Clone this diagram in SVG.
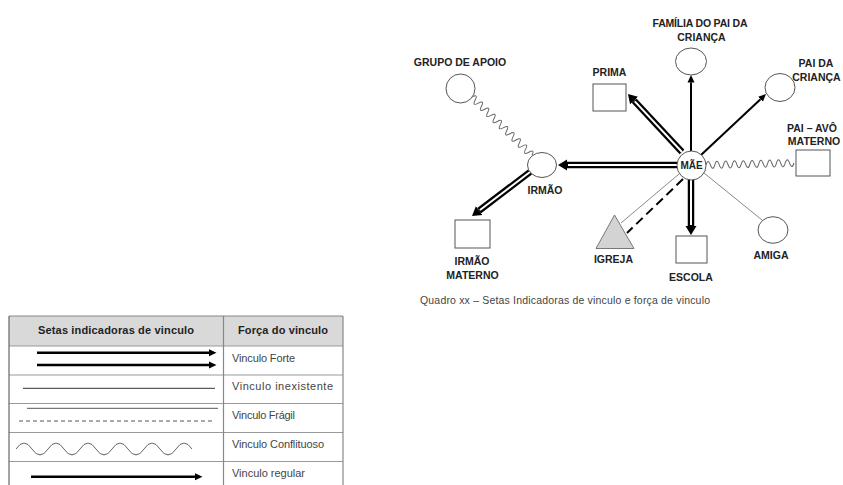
<svg xmlns="http://www.w3.org/2000/svg" width="843" height="485" viewBox="0 0 843 485">
<defs>
<style>
.lbl{font-family:"Liberation Sans",Arial,sans-serif;font-weight:bold;font-size:10.5px;fill:#222;text-anchor:middle}
.cap{font-family:"Liberation Sans",Arial,sans-serif;font-size:10.5px;fill:#444}
.th{font-family:"Liberation Sans",Arial,sans-serif;font-weight:bold;font-size:11px;fill:#222}
.td{font-family:"Liberation Sans",Arial,sans-serif;font-size:11px;fill:#444}
.shape{fill:#fff;stroke:#555;stroke-width:1}
.strong{stroke:#000;stroke-width:6.5;fill:none}
.strongin{stroke:#fff;stroke-width:2;fill:none}
.reg{stroke:#000;stroke-width:2;fill:none}
.thin{stroke:#888;stroke-width:1;fill:none}
.wave{stroke:#666;stroke-width:1;fill:none}
.tline{stroke:#999;stroke-width:1.2}
</style>
<marker id="ahBig" markerUnits="userSpaceOnUse" viewBox="0 -6 10 12" markerWidth="10" markerHeight="12" refX="0" refY="0" orient="auto"><path d="M0,-5.5 L9,0 L0,5.5 z" fill="#000"/></marker>
<marker id="ah" markerUnits="userSpaceOnUse" viewBox="0 -4 8 8" markerWidth="8" markerHeight="8" refX="0" refY="0" orient="auto"><path d="M0,-3.5 L7.5,0 L0,3.5 z" fill="#000"/></marker>
</defs>
<rect width="843" height="485" fill="#fff"/>

<g id="connectors">
  <path class="wave" transform="translate(472,97) rotate(44.2)" d="M0,0 q2.2,-7 4.4,0 t4.4,0 t4.4,0 t4.4,0 t4.4,0 t4.4,0 t4.4,0 t4.4,0 t4.4,0 t4.4,0 t4.4,0 t4.4,0 t4.4,0 t4.4,0 t4.4,0 t4.4,0 t4.4,0 t4.4,0 t4.4,0"/>
  <path class="wave" transform="translate(706,165) rotate(-1.3)" d="M0,0 q2.2,-7 4.4,0 t4.4,0 t4.4,0 t4.4,0 t4.4,0 t4.4,0 t4.4,0 t4.4,0 t4.4,0 t4.4,0 t4.4,0 t4.4,0 t4.4,0 t4.4,0 t4.4,0 t4.4,0 t4.4,0 t4.4,0 t4.4,0 t4.4,0"/>
  <path class="strong" d="M677,165 L567,165" marker-end="url(#ahBig)"/>
  <path class="strongin" d="M677,165 L568,165"/>
  <path class="strong" d="M530,172 L479.2,210.6" marker-end="url(#ahBig)"/>
  <path class="strongin" d="M530,172 L480,210"/>
  <path class="strong" d="M682,152 L634.1,100.6" marker-end="url(#ahBig)"/>
  <path class="strongin" d="M682,152 L634.8,101.4"/>
  <path class="strong" d="M691,180 L691,226" marker-end="url(#ahBig)"/>
  <path class="strongin" d="M691,180 L691,225"/>
  <path class="reg" d="M691,151 L691,82.5" marker-end="url(#ah)"/>
  <path class="reg" d="M701,155 L760.5,99.2" marker-end="url(#ah)"/>
  <path class="thin" d="M679,174 L621,223"/>
  <path d="M683,179 L627,233" stroke="#000" stroke-width="2" stroke-dasharray="9,5" fill="none"/>
  <path class="thin" d="M704,173 L762,220"/>
</g>

<g id="grupo"><circle class="shape" cx="460.5" cy="88.5" r="14.5"/><text class="lbl" x="460" y="65.5">GRUPO DE APOIO</text></g>
<g id="familia"><ellipse class="shape" cx="691" cy="61.5" rx="15.5" ry="13.5"/><text class="lbl" x="700" y="27" textLength="95">FAMÍLIA DO PAI DA</text><text class="lbl" x="701.5" y="41">CRIANÇA</text></g>
<g id="prima"><rect class="shape" x="593" y="84" width="33" height="27"/><text class="lbl" x="609.5" y="75.5">PRIMA</text></g>
<g id="pai"><ellipse class="shape" cx="780" cy="87.5" rx="15" ry="14"/><text class="lbl" x="816" y="67">PAI DA</text><text class="lbl" x="816.5" y="81">CRIANÇA</text></g>
<g id="paiavo"><rect class="shape" x="796" y="150" width="34" height="26"/><text class="lbl" x="812" y="132">PAI – AVÔ</text><text class="lbl" x="814" y="144.5">MATERNO</text></g>
<g id="mae"><circle class="shape" cx="691.5" cy="165.5" r="14.5"/><text class="lbl" x="691.5" y="169" style="font-size:10px">MÃE</text></g>
<g id="irmao"><ellipse class="shape" cx="542" cy="165" rx="14.5" ry="12.5"/><text class="lbl" x="545" y="193.5">IRMÃO</text></g>
<g id="irmaomaterno"><rect class="shape" x="455" y="220" width="35" height="28"/><text class="lbl" x="472" y="265">IRMÃO</text><text class="lbl" x="472.5" y="278.5">MATERNO</text></g>
<g id="igreja"><polygon points="614.5,215 596,248.5 634,248.5" fill="#d3d3d3" stroke="#777" stroke-width="1"/><text class="lbl" x="613.5" y="263">IGREJA</text></g>
<g id="escola"><rect class="shape" x="676" y="236" width="31" height="27"/><text class="lbl" x="691" y="280.5">ESCOLA</text></g>
<g id="amiga"><ellipse class="shape" cx="773" cy="230" rx="15" ry="13.3"/><text class="lbl" x="771" y="258.5">AMIGA</text></g>
<text class="cap" x="420" y="303.5" textLength="290">Quadro xx – Setas Indicadoras de vinculo e força de vinculo</text>

<g id="legend">
  <rect x="9" y="316" width="334" height="30" fill="#d9d9d9"/>
  <line class="tline" x1="9" y1="346" x2="343" y2="346"/>
  <line class="tline" x1="9" y1="375" x2="343" y2="375"/>
  <line class="tline" x1="9" y1="403.5" x2="343" y2="403.5"/>
  <line class="tline" x1="9" y1="432.5" x2="343" y2="432.5"/>
  <line class="tline" x1="9" y1="461.5" x2="343" y2="461.5"/>
  <line x1="9" y1="316" x2="343" y2="316" stroke="#888" stroke-width="1.2"/>
  <line x1="9" y1="316" x2="9" y2="485" stroke="#666" stroke-width="1.2"/>
  <line x1="223.5" y1="316" x2="223.5" y2="485" stroke="#888" stroke-width="1.2"/>
  <line x1="343" y1="316" x2="343" y2="485" stroke="#888" stroke-width="1.2"/>
  <text class="th" x="38" y="333.5" textLength="156">Setas indicadoras de vinculo</text>
  <text class="th" x="238" y="333.5" textLength="90">Força do vinculo</text>
  <line x1="37" y1="352.7" x2="209" y2="352.7" stroke="#000" stroke-width="2.6" marker-end="url(#ah)"/>
  <line x1="37" y1="365" x2="209" y2="365" stroke="#000" stroke-width="2.6" marker-end="url(#ah)"/>
  <line x1="23" y1="388.3" x2="215" y2="388.3" stroke="#333" stroke-width="1"/>
  <line x1="27" y1="408.3" x2="218" y2="408.3" stroke="#555" stroke-width="1"/>
  <line x1="19" y1="421" x2="212" y2="421" stroke="#555" stroke-width="1" stroke-dasharray="4,3"/>
  <path d="M16,449 q8,-12 16,0 t16,0 t16,0 t16,0 t16,0 t16,0 t16,0 t16,0 t16,0 t16,0 t16,0" stroke="#666" stroke-width="1" fill="none"/>
  <line x1="31" y1="476.7" x2="195" y2="476.7" stroke="#000" stroke-width="2.6" marker-end="url(#ah)"/>
  <text class="td" x="232" y="362" textLength="63">Vinculo Forte</text>
  <text class="td" x="232" y="390" textLength="101">Vinculo inexistente</text>
  <text class="td" x="232" y="419" textLength="63">Vinculo Frágil</text>
  <text class="td" x="232" y="448" textLength="92">Vinculo Conflituoso</text>
  <text class="td" x="232" y="477" textLength="73">Vinculo regular</text>
</g>
</svg>
